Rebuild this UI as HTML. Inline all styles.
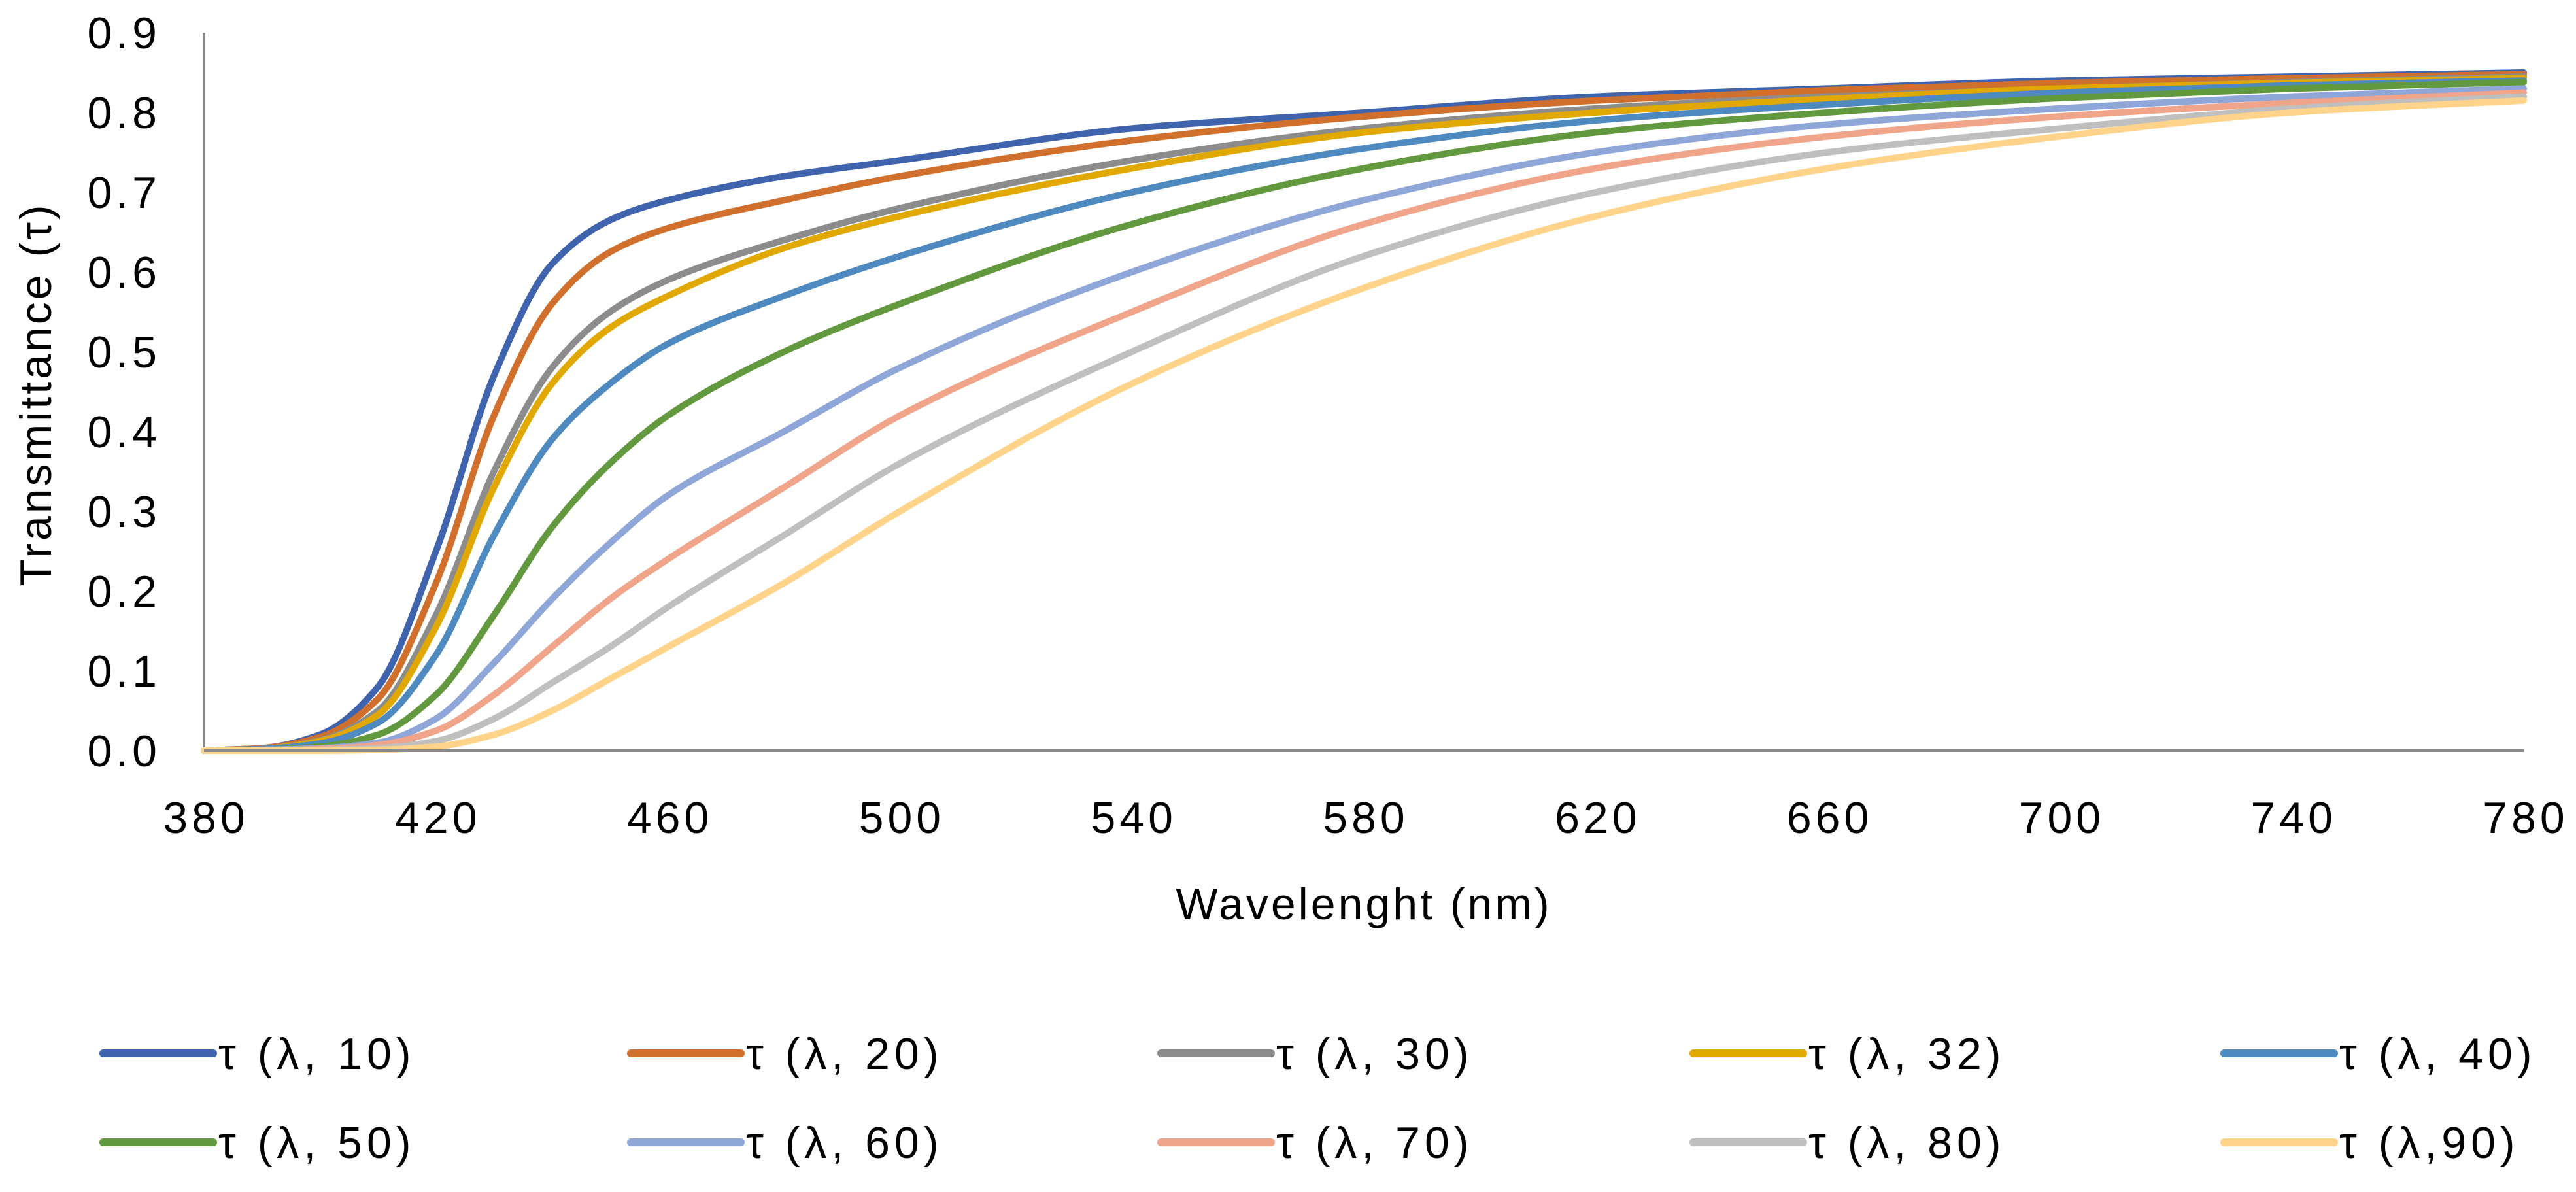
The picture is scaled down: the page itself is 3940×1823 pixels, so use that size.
<!DOCTYPE html>
<html><head><meta charset="utf-8"><style>
html,body{margin:0;padding:0;background:#fff;}
svg text{font-family:"Liberation Sans",sans-serif;fill:#000;}
</style></head><body>
<svg id="chart" width="3940" height="1818" viewBox="0 0 3940 1818" xmlns="http://www.w3.org/2000/svg">
<rect width="3940" height="1818" fill="#fff"/>
<g id="plot"></g>
</svg>
<script>
const wavelengths=[380,390,400,410,420,430,440,450,460,480,500,540,580,620,660,700,740,780];
const s10=[0,0.003,0.02,0.08,0.25,0.47,0.61,0.665,0.69,0.72,0.74,0.78,0.80,0.82,0.83,0.84,0.845,0.85];
const s20=[0,0.003,0.017,0.065,0.21,0.42,0.56,0.625,0.655,0.69,0.72,0.765,0.795,0.815,0.828,0.837,0.843,0.848];
const s30=[0,0.002,0.013,0.05,0.17,0.35,0.48,0.55,0.59,0.64,0.68,0.74,0.78,0.805,0.82,0.83,0.838,0.845];
const s32=[0,0.002,0.012,0.045,0.155,0.33,0.46,0.53,0.57,0.63,0.67,0.73,0.775,0.80,0.817,0.83,0.837,0.843];
const s40=[0,0.002,0.009,0.035,0.12,0.27,0.39,0.46,0.51,0.57,0.62,0.70,0.755,0.79,0.81,0.825,0.834,0.84];
const s50=[0,0.001,0.005,0.02,0.07,0.17,0.28,0.36,0.42,0.50,0.56,0.66,0.73,0.775,0.80,0.818,0.83,0.838];
const s60=[0,0.001,0.003,0.01,0.04,0.11,0.19,0.26,0.32,0.40,0.48,0.60,0.69,0.75,0.785,0.805,0.82,0.83];
const s70=[0,0,0.002,0.007,0.025,0.07,0.13,0.19,0.24,0.33,0.42,0.55,0.66,0.73,0.77,0.795,0.812,0.825];
const s80=[0,0,0.001,0.003,0.012,0.04,0.085,0.13,0.18,0.27,0.36,0.50,0.62,0.70,0.75,0.78,0.805,0.82];
const s90=[0,0,0,0.001,0.005,0.02,0.05,0.09,0.13,0.21,0.30,0.46,0.58,0.67,0.73,0.77,0.80,0.815];
const seriesNames=["τ (λ, 10)","τ (λ, 20)","τ (λ, 30)","τ (λ, 32)","τ (λ, 40)","τ (λ, 50)","τ (λ, 60)","τ (λ, 70)","τ (λ, 80)","τ (λ,90)"];
const xTicks=[380,420,460,500,540,580,620,660,700,740,780];
const yTicks=[0,0.1,0.2,0.3,0.4,0.5,0.6,0.7,0.8,0.9];

const seriesData=[s10,s20,s30,s32,s40,s50,s60,s70,s80,s90];
const colors=["#3f63ad","#d0702c","#8c8c8c","#e0a800","#4e89bf","#62993e","#8fa6d8","#f0a58a","#bfbfbf","#ffd38a"];
const NS="http://www.w3.org/2000/svg";
const g=document.getElementById('plot');
const X0=312,X1=3860,Y0=1148,Y1=50;
function xs(w){return X0+(w-380)/(780-380)*(X1-X0);}
function ys(v){return Y0-v/0.9*(Y0-Y1);}
function mk(tag,attrs){const e=document.createElementNS(NS,tag);for(const k in attrs)e.setAttribute(k,attrs[k]);g.appendChild(e);return e;}

yTicks.forEach(v=>{
  const t=mk('text',{x:246,y:ys(v)+24,'font-size':68,'letter-spacing':6,'text-anchor':'end'});
  t.textContent=v.toFixed(1);
  
  
});
xTicks.forEach(w=>{
  const t=mk('text',{x:xs(w)+3,y:1274,'font-size':68,'letter-spacing':6,'text-anchor':'middle'});
  t.textContent=w;
  
  
});
const xt=mk('text',{x:2086,y:1406,'font-size':68,'letter-spacing':4,'text-anchor':'middle'});
xt.textContent='Wavelenght (nm)';


const yt=mk('text',{x:0,y:0,'font-size':68,'letter-spacing':4,'text-anchor':'middle',transform:'translate(78,603) rotate(-90)'});
yt.textContent='Transmittance (τ)';



const ya=mk('line',{x1:X0,y1:Y1,x2:X0,y2:Y0,stroke:'#898989','stroke-width':4});



function monoPath(pts){
  const n=pts.length,d=[],m=[];
  for(let i=0;i<n-1;i++)d.push((pts[i+1][1]-pts[i][1])/(pts[i+1][0]-pts[i][0]));
  m[0]=d[0];m[n-1]=d[n-2];
  for(let i=1;i<n-1;i++){
    if(d[i-1]*d[i]<=0)m[i]=0;
    else{const h0=pts[i][0]-pts[i-1][0],h1=pts[i+1][0]-pts[i][0];
      const w1=2*h1+h0,w2=h1+2*h0;m[i]=(w1+w2)/(w1/d[i-1]+w2/d[i]);}
  }
  let s='M'+pts[0][0]+','+pts[0][1];
  for(let i=0;i<n-1;i++){
    const h=(pts[i+1][0]-pts[i][0])/3;
    s+=' C'+(pts[i][0]+h)+','+(pts[i][1]+m[i]*h)+' '+(pts[i+1][0]-h)+','+(pts[i+1][1]-m[i+1]*h)+' '+pts[i+1][0]+','+pts[i+1][1];
  }
  return s;
}
seriesData.forEach((arr,i)=>{
  const pts=wavelengths.map((w,j)=>[xs(w),ys(arr[j])]);
  const p=mk('path',{d:monoPath(pts),fill:'none',stroke:colors[i],'stroke-width':10,'stroke-linejoin':'round','stroke-linecap':'round'});
  
  
});
const xa=mk('line',{x1:X0,y1:Y0,x2:X1,y2:Y0,stroke:'#898989','stroke-width':4});



const colX=[158,965,1776,2590,3402];
const rowY=[1611,1747];
seriesNames.forEach((n,i)=>{
  const cx=colX[i%5],cy=rowY[Math.floor(i/5)];
  const l=mk('line',{x1:cx,y1:cy,x2:cx+168,y2:cy,stroke:colors[i],'stroke-width':12,'stroke-linecap':'round'});
  
  
  const t=mk('text',{x:cx+176,y:cy+24,'font-size':68,'letter-spacing':7});
  t.textContent=n;
  
  
});
</script>
</body></html>
